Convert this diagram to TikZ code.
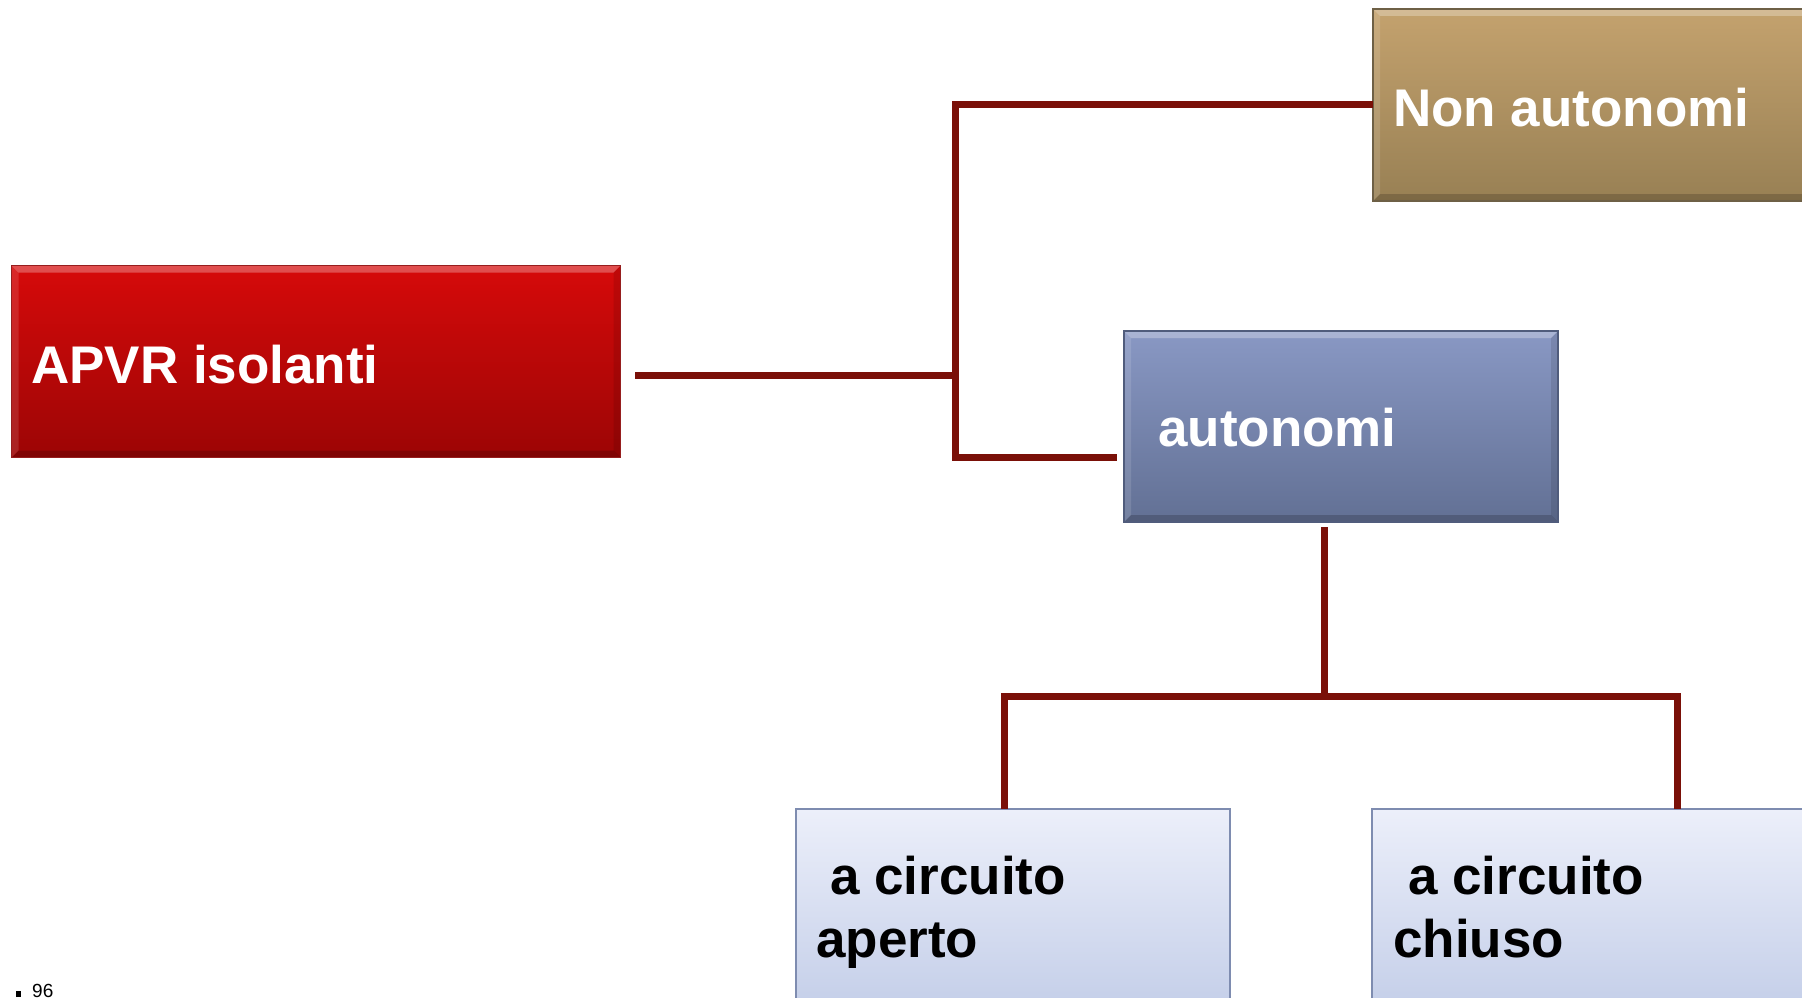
\documentclass[tikz,border=0pt]{standalone}
\usepackage{fontspec}
\setmainfont{Liberation Sans}
\definecolor{conncol}{RGB}{122,16,8}
\definecolor{redtop}{RGB}{214,10,10}
\definecolor{redbot}{RGB}{156,5,5}
\definecolor{redline}{RGB}{150,30,30}
\definecolor{tantop}{RGB}{196,162,110}
\definecolor{tanbot}{RGB}{152,128,84}
\definecolor{tanline}{RGB}{110,96,70}
\definecolor{bluetop}{RGB}{137,152,196}
\definecolor{bluebot}{RGB}{98,112,148}
\definecolor{blueline}{RGB}{80,92,124}
\definecolor{palettop}{RGB}{236,239,250}
\definecolor{palebot}{RGB}{188,200,229}
\definecolor{paleline}{RGB}{126,140,176}
% soft bevel bands along the four inner edges of a box
\newcommand{\bevelbands}{%
  \coordinate (bnw) at (path picture bounding box.north west);
  \coordinate (bne) at (path picture bounding box.north east);
  \coordinate (bsw) at (path picture bounding box.south west);
  \coordinate (bse) at (path picture bounding box.south east);
  \fill[white,opacity=.28] (bnw) -- (bne) -- ([xshift=-7pt,yshift=-7pt]bne) -- ([xshift=7pt,yshift=-7pt]bnw) -- cycle;
  \fill[white,opacity=.12] (bnw) -- ([xshift=7pt,yshift=-7pt]bnw) -- ([xshift=7pt,yshift=7pt]bsw) -- (bsw) -- cycle;
  \fill[black,opacity=.10] (bne) -- ([xshift=-7pt,yshift=-7pt]bne) -- ([xshift=-7pt,yshift=7pt]bse) -- (bse) -- cycle;
  \fill[black,opacity=.18] (bsw) -- (bse) -- ([xshift=-7pt,yshift=7pt]bse) -- ([xshift=7pt,yshift=7pt]bsw) -- cycle;
}
\begin{document}
\begin{tikzpicture}[x=1pt,y=-1pt,
  box/.style={rectangle, inner sep=0pt, outer sep=0pt, anchor=north west, line width=1.6pt},
  bevel/.style={path picture={\bevelbands}},
  redbox/.style={box, bevel, top color=redtop, bottom color=redbot, draw=redline},
  tanbox/.style={box, bevel, top color=tantop, bottom color=tanbot, draw=tanline},
  bluebox/.style={box, bevel, top color=bluetop, bottom color=bluebot, draw=blueline},
  palebox/.style={box, top color=palettop, bottom color=palebot, draw=paleline},
  lbl/.style={inner sep=0pt, anchor=base west, font=\bfseries\fontsize{53}{62}\selectfont},
  conn/.style={draw=conncol, line width=7pt, line cap=rect},
]
\useasboundingbox (0,0) rectangle (1802,998);
\clip (0,0) rectangle (1802,998);

% boxes
\node[redbox, minimum width=609pt, minimum height=192pt] (apvr) at (11.5,265.5) {};
\node[tanbox, minimum width=440pt, minimum height=192pt] (nonaut) at (1373,9) {};
\node[bluebox, minimum width=434pt, minimum height=191pt] (aut) at (1124,331) {};
\node[palebox, minimum width=434pt, minimum height=240pt] (aperto) at (796,809) {};
\node[palebox, minimum width=440pt, minimum height=240pt] (chiuso) at (1372,809) {};

% labels
\node[lbl, text=white] (apvrtxt) at (31,383) {APVR isolanti};
\node[lbl, text=white] (nonauttxt) at (1393,126) {Non autonomi};
\node[lbl, text=white] (auttxt) at (1158,446) {autonomi};
\node[lbl, text=black] (apertoa) at (830,894) {a circuito};
\node[lbl, text=black] (apertob) at (816,957) {aperto};
\node[lbl, text=black] (chiusoa) at (1408,894) {a circuito};
\node[lbl, text=black] (chiusob) at (1393,957) {chiuso};

% page number
\node[inner sep=0pt, anchor=base west, font=\fontsize{19}{22}\selectfont] (pnum) at (16,997) {\rule{5pt}{6pt}\hspace{11pt}96};

% connector junctions
\coordinate (r0) at (638,375.8);
\coordinate (r1) at (955,375.8);
\coordinate (vtop) at (955,104.6);
\coordinate (vbot) at (955,457.4);
\coordinate (na) at (1369,104.6);
\coordinate (au) at (1113,457.4);
\coordinate (b0) at (1324,530);
\coordinate (b1) at (1324,696);
\coordinate (bl) at (1004,696);
\coordinate (br) at (1677,696);
\coordinate (ap) at (1004,805);
\coordinate (ch) at (1677,805);

\draw[conn] (r0) -- (r1);
\draw[conn] (na) -- (vtop) -- (vbot) -- (au);
\draw[conn] (b0) -- (b1);
\draw[conn] (ap) -- (bl) -- (br) -- (ch);
\end{tikzpicture}
\end{document}
